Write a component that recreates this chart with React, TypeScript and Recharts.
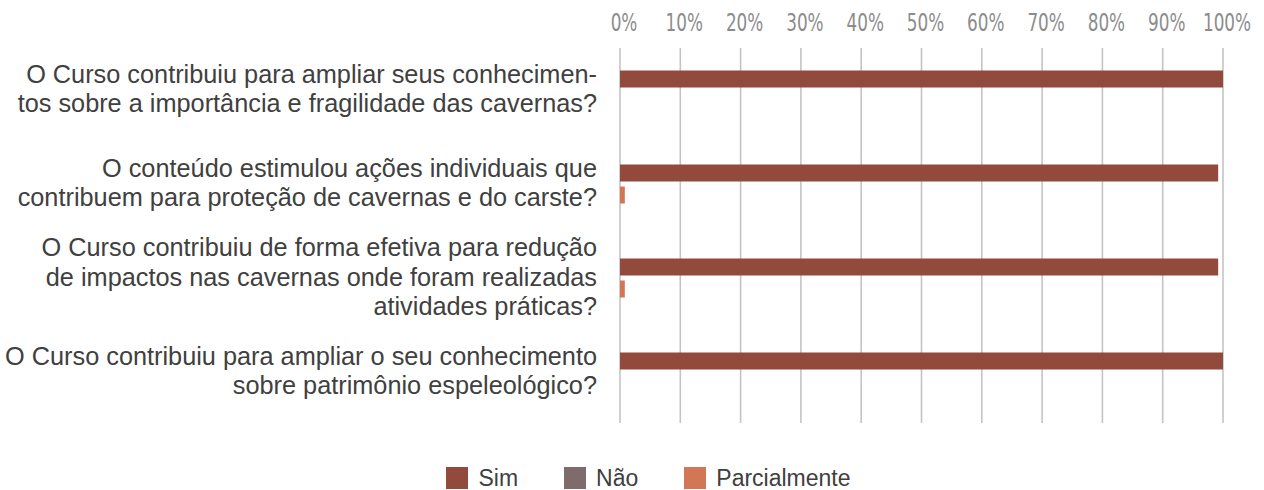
import React from 'react';
import { BarChart, Bar, XAxis, YAxis, CartesianGrid, Legend } from 'recharts';

const questions = [
    ['O Curso contribuiu para ampliar seus conhecimen-', 'tos sobre a importância e fragilidade das cavernas?'],
    ['O conteúdo estimulou ações individuais que', 'contribuem para proteção de cavernas e do carste?'],
    ['O Curso contribuiu de forma efetiva para redução', 'de impactos nas cavernas onde foram realizadas', 'atividades práticas?'],
    ['O Curso contribuiu para ampliar o seu conhecimento', 'sobre patrimônio espeleológico?'],
];
const sim = [100, 99.2, 99.2, 100];
const nao = [0, 0, 0, 0];
const parcialmente = [0, 0.8, 0.8, 0];
const percentTicks = [0, 10, 20, 30, 40, 50, 60, 70, 80, 90, 100];

const series = [
    { key: 'sim', name: 'Sim', color: '#924A3C' },
    { key: 'nao', name: 'Não', color: '#7F6A6C' },
    { key: 'parcialmente', name: 'Parcialmente', color: '#D27656' },
];

const data = questions.map((q, i) => ({
    label: q.join('\n'),
    sim: sim[i],
    nao: nao[i],
    parcialmente: parcialmente[i],
}));

const labelFont = '"Liberation Sans", Arial, sans-serif';

const QuestionTick = (props: any) => {
    const { x, y, payload } = props;
    const lines: string[] = String(payload.value).split('\n');
    const lineH = 29.5;
    const start = y - 12 - ((lines.length - 1) * lineH) / 2;
    return (
        <text x={x} y={start} textAnchor="end" fill="#404040" fontSize={25.3} fontFamily={labelFont}>
            {lines.map((ln, i) => (
                <tspan key={i} x={x} y={start + i * lineH} dominantBaseline="central">{ln}</tspan>
            ))}
        </text>
    );
};

const PercentTick = (props: any) => {
    const { x, y, payload } = props;
    return (
        <g transform={`translate(${x + 4},${y - 23}) scale(0.78,1)`}>
            <text x={0} y={0} textAnchor="middle" dominantBaseline="central" fill="#8c8c8c"
                fontSize={24} fontFamily='"Liberation Sans Narrow", "DejaVu Sans Condensed", sans-serif'>
                {payload.value}%
            </text>
        </g>
    );
};

const LegendContent = () => (
    <div style={{ display: 'flex', justifyContent: 'center', paddingLeft: 33, fontFamily: labelFont, fontSize: 23, lineHeight: '20px', color: '#404040' }}>
        {series.map((s, i) => (
            <div key={s.key} style={{ display: 'flex', alignItems: 'center', marginRight: i < series.length - 1 ? 46 : 0, height: 22 }}>
                <span style={{ width: 22, height: 22, background: s.color, display: 'inline-block', marginRight: 10 }} />
                <span>{s.name}</span>
            </div>
        ))}
    </div>
);

export default function App() {
    return (
        <div style={{ position: 'absolute', left: 0, top: 0, background: '#fff' }}>
            <BarChart
                width={1264}
                height={490}
                data={data}
                layout="vertical"
                margin={{ top: 0, right: 41, bottom: 45, left: 0 }}
                barSize={17}
                barGap={5}
            >
                <CartesianGrid horizontal={false} vertical={true} stroke="#c4c4c4" strokeWidth={1.6} />
                <XAxis
                    type="number"
                    orientation="top"
                    domain={[0, 100]}
                    ticks={percentTicks}
                    axisLine={false}
                    tickLine={false}
                    tickSize={0}
                    height={48}
                    tick={<PercentTick />}
                    interval={0}
                />
                <YAxis
                    type="category"
                    dataKey="label"
                    width={620}
                    axisLine={false}
                    tickLine={false}
                    tickSize={0}
                    tickMargin={23}
                    padding={{ top: 5.5, bottom: -6.5 }}
                    tick={<QuestionTick />}
                    interval={0}
                />
                <Legend
                    verticalAlign="bottom"
                    content={<LegendContent />}
                    wrapperStyle={{ bottom: 1, left: 0, width: 1264, height: 22 }}
                />
                <Bar dataKey="sim" name="Sim" fill={series[0].color} isAnimationActive={false} />
                <Bar dataKey="parcialmente" name="Parcialmente" fill={series[2].color} isAnimationActive={false} />
                <Bar dataKey="nao" name="Não" fill={series[1].color} isAnimationActive={false} />
            </BarChart>
        </div>
    );
}
